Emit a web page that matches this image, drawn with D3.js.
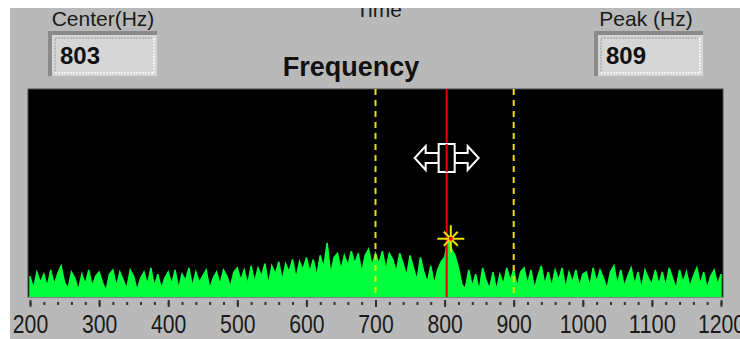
<!DOCTYPE html>
<html>
<head>
<meta charset="utf-8">
<script src="https://cdn.jsdelivr.net/npm/d3@7"></script>
<style>
  body { margin: 0; background: #fff; }
  svg { display: block; }
  .lbl { font-family: "Liberation Sans", Arial, sans-serif; fill: #1a1a1a; }
  .val { font-family: "Liberation Sans", Arial, sans-serif; font-weight: bold; fill: #111; }
</style>
</head>
<body>
<svg id="chart"></svg>
<script>
// spectrum sampled every 5 Hz, 200..1200 Hz (relative amplitude, 0-100)
const freqStart = 200, freqEnd = 1200, freqStep = 5;
const amplitudes = [
  10,4,12,7,11,5,13,6,11,15,7,4,12,9,3,11,6,13,5,10,12,
  7,3,11,13,5,12,8,4,13,10,3,9,12,6,14,5,11,4,9,12,
  6,13,4,11,8,14,5,12,7,10,13,4,9,12,6,13,10,5,12,14,
  8,13,6,15,7,14,10,16,6,15,11,17,8,16,12,18,9,17,13,19,
  12,18,10,20,14,26,11,19,21,13,20,15,22,16,21,12,20,23,15,21,
  16,22,13,21,18,12,21,16,10,20,14,8,19,12,7,15,6,13,17,19,
  28,23,20,14,6,4,13,5,11,3,14,8,4,12,3,11,6,14,8,13,
  5,12,14,6,13,4,10,15,6,12,5,13,8,14,4,12,7,13,5,11,
  12,5,14,7,13,9,4,12,15,6,13,5,10,14,6,12,4,13,9,6,
  13,6,12,5,14,9,4,13,7,12,5,10,14,6,12,4,10,13,6,11
];
const frequencies = d3.range(freqStart, freqEnd + 1, freqStep);

const centerHz = 803;
const peakHz = 809;
const peakAmp = 28;
const bandLow = 700, bandHigh = 900;
const majorTicks = d3.range(200, 1201, 100);
const minorTicks = d3.range(200, 1201, 20);

const WIDTH = 740, HEIGHT = 339;
const plot = {left: 28, right: 723, top: 89, bottom: 297};

const svg = d3.select('#chart')
    .attr('width', WIDTH)
    .attr('height', HEIGHT);

// panel background
svg.append('rect')
    .attr('x', 10).attr('y', 8)
    .attr('width', WIDTH - 10).attr('height', HEIGHT - 8)
    .attr('fill', '#b9b9b9');

svg.append('clipPath').attr('id', 'panel')
  .append('rect').attr('x', 10).attr('y', 8).attr('width', WIDTH - 10).attr('height', HEIGHT - 8);

const x = d3.scaleLinear().domain([freqStart, freqEnd]).range([30, 721]);
const y = d3.scaleLinear().domain([0, 100]).range([plot.bottom, plot.top]);

// narrow look of the old dialog font
function narrow(sel, perChar) {
  sel.each(function() {
    const t = d3.select(this);
    t.attr('textLength', t.text().length * perChar).attr('lengthAdjust', 'spacingAndGlyphs');
  });
}

// header texts
const header = svg.append('g').attr('clip-path', 'url(#panel)');
header.append('text').attr('class', 'lbl')
    .attr('x', 103).attr('y', 26).attr('text-anchor', 'middle')
    .style('font-size', '21px').text('Center(Hz)');
header.append('text').attr('class', 'lbl')
    .attr('x', 646).attr('y', 26).attr('text-anchor', 'middle')
    .style('font-size', '21px').text('Peak (Hz)');
header.append('text').attr('class', 'lbl')
    .attr('x', 379).attr('y', 17).attr('text-anchor', 'middle')
    .style('font-size', '21px').text('Time');
header.append('text').attr('class', 'val')
    .attr('x', 351).attr('y', 76).attr('text-anchor', 'middle')
    .style('font-size', '27px').text('Frequency');

// readout boxes
function readout(x0, value) {
  const g = svg.append('g').attr('transform', `translate(${x0},33)`);
  g.append('rect').attr('width', 107).attr('height', 43).attr('fill', '#d6d6d6');
  g.append('path').attr('d', 'M0,43V0H107').attr('fill', 'none')
      .attr('stroke', '#8a8a8a').attr('stroke-width', 4);
  g.append('path').attr('d', 'M5,40H104V4').attr('fill', 'none')
      .attr('stroke', '#f2f2f2').attr('stroke-width', 2).attr('stroke-dasharray', '2,1');
  g.append('path').attr('d', 'M5,38V5H102').attr('fill', 'none')
      .attr('stroke', '#9a9a9a').attr('stroke-width', 1).attr('stroke-dasharray', '2,1');
  g.append('text').attr('class', 'val')
      .attr('x', 10).attr('y', 31)
      .style('font-size', '24px').text(value);
}
readout(50, centerHz);
readout(596, peakHz);

// plot area
svg.append('rect')
    .attr('x', plot.left).attr('y', plot.top)
    .attr('width', plot.right - plot.left).attr('height', plot.bottom - plot.top)
    .attr('fill', '#000')
    .attr('stroke', '#4a4a4a').attr('stroke-width', 1);

svg.append('clipPath').attr('id', 'plotclip')
  .append('rect').attr('x', plot.left).attr('y', plot.top)
    .attr('width', plot.right - plot.left).attr('height', plot.bottom - plot.top);

const pg = svg.append('g').attr('clip-path', 'url(#plotclip)');

const area = d3.area()
    .x((d, i) => x(frequencies[i]))
    .y0(y(0))
    .y1(d => y(d));

pg.append('path')
    .datum(amplitudes)
    .attr('d', area)
    .attr('fill', '#00ff3c')
    .attr('stroke', '#00ff3c')
    .attr('stroke-width', 1.5)
    .attr('stroke-linejoin', 'miter');

// band limits
pg.selectAll('.band')
    .data([bandLow, bandHigh])
    .join('line')
    .attr('x1', d => x(d)).attr('x2', d => x(d))
    .attr('y1', plot.top).attr('y2', plot.bottom)
    .attr('stroke', '#f0e000').attr('stroke-width', 2)
    .attr('stroke-dasharray', '6,5');

// center cursor
pg.append('line')
    .attr('x1', x(centerHz)).attr('x2', x(centerHz))
    .attr('y1', plot.top).attr('y2', plot.bottom)
    .attr('stroke', '#e00000').attr('stroke-width', 2);

// cursor handle
const hx = x(centerHz), hy = 158;
const handle = pg.append('g').attr('transform', `translate(${hx},${hy})`)
    .attr('fill', '#000').attr('stroke', '#fff').attr('stroke-width', 2);
handle.append('path')
    .attr('d', 'M-8,-5H-21V-12L-32,0L-21,12V5H-8Z');
handle.append('path')
    .attr('d', 'M8,-5H21V-12L32,0L21,12V5H8Z');
handle.append('rect').attr('x', -8).attr('y', -14).attr('width', 16).attr('height', 28);
handle.append('line').attr('x1', 0).attr('x2', 0).attr('y1', -14).attr('y2', 14)
    .attr('stroke', '#e00000');

// peak marker
const star = pg.append('g')
    .attr('transform', `translate(${x(peakHz)},${y(peakAmp)})`)
    .attr('fill', 'none').attr('stroke', '#f0e000').attr('stroke-width', 2);
star.append('path').attr('d', d3.symbol(d3.symbolPlus, 240)());
star.append('path').attr('d', d3.symbol(d3.symbolTimes, 130)());
star.append('circle').attr('r', 2).attr('fill', '#e00000').attr('stroke', 'none');

// x axis
const axisY = 300;
svg.append('g')
    .attr('transform', `translate(0,${axisY})`)
    .call(d3.axisBottom(x).tickValues(minorTicks).tickSize(5).tickFormat(''))
    .call(g => g.select('.domain').remove())
    .call(g => g.selectAll('line').attr('stroke', '#333').attr('stroke-width', 2)
        .attr('y1', 2));

const major = svg.append('g')
    .attr('transform', `translate(0,${axisY})`)
    .call(d3.axisBottom(x).tickValues(majorTicks).tickSize(7).tickFormat(d3.format('d')))
    .call(g => g.select('.domain').remove());
major.selectAll('line').attr('stroke', '#333').attr('stroke-width', 2).attr('y1', 0);
major.selectAll('text')
    .attr('class', 'lbl')
    .attr('y', 33).attr('dy', null)
    .style('font-size', '26px')
    .attr('fill', '#1a1a1a')
    .call(narrow, 11.8);
</script>
</body>
</html>
